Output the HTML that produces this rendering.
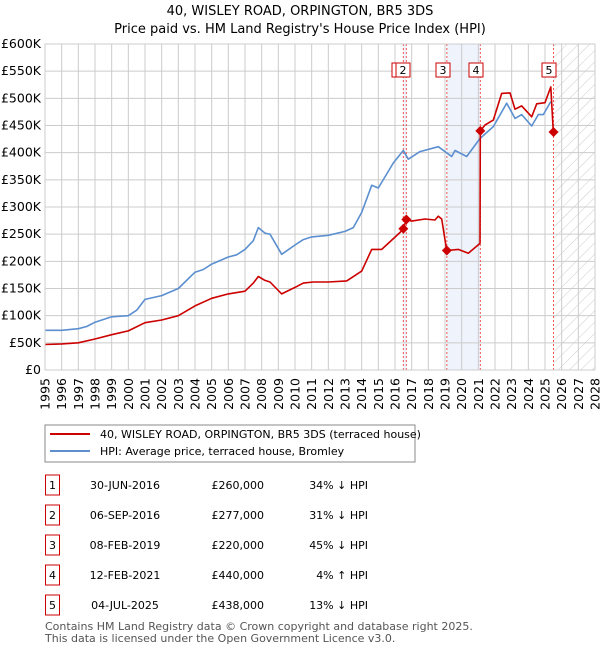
<!DOCTYPE html>
<html><head><meta charset="utf-8"><style>
body{margin:0;background:#fff;font-family:"Liberation Sans","DejaVu Sans",sans-serif;}
svg text{font-family:"DejaVu Sans","Liberation Sans",sans-serif;}
</style></head><body>
<svg id="c" width="600" height="650" viewBox="0 0 600 650" xmlns="http://www.w3.org/2000/svg">
<defs><pattern id="hatch" width="8" height="8" patternUnits="userSpaceOnUse" patternTransform="rotate(45)"><line x1="0" y1="0" x2="0" y2="8" stroke="#ccc" stroke-width="1"/></pattern></defs>
<text x="300" y="15" text-anchor="middle" font-size="13" fill="#000">40, WISLEY ROAD, ORPINGTON, BR5 3DS</text>
<text x="300" y="33" text-anchor="middle" font-size="13" fill="#000">Price paid vs. HM Land Registry's House Price Index (HPI)</text>
<g id="grid"></g><g id="marks"></g><g id="axes"></g>
<rect x="45" y="425" width="370" height="37" fill="#fff" stroke="#888"/>
<line x1="50" y1="434" x2="90" y2="434" stroke="#cc0000" stroke-width="2"/>
<text x="100" y="438" font-size="11">40, WISLEY ROAD, ORPINGTON, BR5 3DS (terraced house)</text>
<line x1="50" y1="451" x2="90" y2="451" stroke="#5b8fd0" stroke-width="2"/>
<text x="100" y="455" font-size="11">HPI: Average price, terraced house, Bromley</text>
<g id="table"></g>
<text x="45" y="630" font-size="11" fill="#555">Contains HM Land Registry data © Crown copyright and database right 2025.</text>
<text x="45" y="642" font-size="11" fill="#555">This data is licensed under the Open Government Licence v3.0.</text>
</svg>
<script>
const yTicks=[0,50,100,150,200,250,300,350,400,450,500,550,600];
const yTickLabels=["£0","£50K","£100K","£150K","£200K","£250K","£300K","£350K","£400K","£450K","£500K","£550K","£600K"];
const xYears=[1995,1996,1997,1998,1999,2000,2001,2002,2003,2004,2005,2006,2007,2008,2009,2010,2011,2012,2013,2014,2015,2016,2017,2018,2019,2020,2021,2022,2023,2024,2025,2026,2027,2028];
const hpiT=[1995,1996,1997,1997.5,1998,1999,2000,2000.5,2001,2002,2003,2004,2004.5,2005,2006,2006.5,2007,2007.5,2007.8,2008.2,2008.5,2009.2,2010,2010.5,2011,2012,2013,2013.5,2014,2014.6,2015,2015.9,2016.5,2016.8,2017.5,2018.6,2019.4,2019.6,2020.3,2021.1,2021.9,2022.7,2023.2,2023.6,2024.2,2024.6,2024.9,2025.35];
const hpiV=[73,73,76,80,88,98,100,110,130,137,150,180,185,195,208,212,222,238,262,252,250,213,230,240,245,248,255,262,290,340,335,381,404,388,402,411,393,404,393,426,448,491,463,470,449,470,470,494];
const redT=[1995,1996,1997,1998,1999,2000,2001,2002,2003,2004,2005,2006,2007,2007.5,2007.8,2008.2,2008.5,2009.2,2010,2010.5,2011.1,2012,2013.1,2014,2014.6,2015.2,2016.3,2016.5,2016.68,2017,2017.8,2018.4,2018.6,2018.8,2019.1,2019.8,2020.4,2021.1,2021.12,2021.4,2021.9,2022.4,2022.9,2023.2,2023.6,2024.2,2024.5,2025,2025.35,2025.5];
const redV=[47,48,50,57,65,72,87,92,100,118,132,140,145,160,172,165,162,140,152,160,162,162,164,182,222,222,253,260,277,274,278,276,283,278,220,222,215,233,440,451,460,509,510,480,486,466,490,492,521,438];
const saleIds=["1","2","3","4","5"];
const saleT=[2016.5,2016.68,2019.11,2021.12,2025.51];
const saleV=[260,277,220,440,438];
const saleDates=["30-JUN-2016","06-SEP-2016","08-FEB-2019","12-FEB-2021","04-JUL-2025"];
const salePrices=["£260,000","£277,000","£220,000","£440,000","£438,000"];
const saleHpi=["34% ↓ HPI","31% ↓ HPI","45% ↓ HPI","4% ↑ HPI","13% ↓ HPI"];
const boxX=[392,396,436,469,542];

const L=45,R=595,T=44,B=370;
const xs=t=>L+(t-1995)*(R-L)/33;
const ys=v=>B-v*(B-T)/600;
const NS="http://www.w3.org/2000/svg";
function mk(p,tag,at){const e=document.createElementNS(NS,tag);for(const k in at)e.setAttribute(k,at[k]);p.appendChild(e);return e;}
const grid=document.getElementById('grid'),marks=document.getElementById('marks'),axes=document.getElementById('axes'),table=document.getElementById('table');
// shading
let s=mk(grid,'rect',{x:xs(saleT[0]),y:T,width:xs(saleT[1])-xs(saleT[0]),height:B-T,fill:'#eef3fc'});


s=mk(grid,'rect',{x:xs(saleT[2]),y:T,width:xs(saleT[3])-xs(saleT[2]),height:B-T,fill:'#eef3fc'});


s=mk(grid,'rect',{x:xs(saleT[4]),y:T,width:R-xs(saleT[4]),height:B-T,fill:'url(#hatch)'});


yTicks.forEach((v,i)=>{
 const l=mk(grid,'line',{x1:L,x2:R,y1:ys(v),y2:ys(v),stroke:'#ccc','stroke-width':1});
 
 
 const t=mk(axes,'text',{x:L-4,y:ys(v)+4,'text-anchor':'end','font-size':12.5,fill:'#000'});
 t.textContent=yTickLabels[i];
 
 
});
xYears.forEach(y=>{
 const l=mk(grid,'line',{x1:xs(y),x2:xs(y),y1:T,y2:B,stroke:'#ccc','stroke-width':1});
 
 
 const t=mk(axes,'text',{x:0,y:0,'text-anchor':'end','font-size':12.5,transform:`translate(${xs(y)+4.5},${B+8}) rotate(-90)`});
 t.textContent=y;
 
 
});
saleT.forEach((t,i)=>{
 const l=mk(marks,'line',{x1:xs(t),x2:xs(t),y1:T,y2:B,stroke:'#e55','stroke-width':1,'stroke-dasharray':'2,2'});
 
 
});
function path(T_,V_,col,name){
 const d=T_.map((t,i)=>(i?'L':'M')+xs(t).toFixed(1)+','+ys(V_[i]).toFixed(1)).join('');
 const p=mk(marks,'path',{d,fill:'none',stroke:col,'stroke-width':1.6,'stroke-linejoin':'round'});
 
 
}
path(hpiT,hpiV,'#5b8fd0','hpi-line');
path(redT,redV,'#cc0000','property-price-line');
saleT.forEach((t,i)=>{
 const x=xs(t),y=ys(saleV[i]);
 const d=mk(marks,'polygon',{points:`${x},${y-5} ${x+5},${y} ${x},${y+5} ${x-5},${y}`,fill:'#cc0000'});
 
 
 const r=mk(marks,'rect',{x:boxX[i],y:63,width:14,height:14,fill:'#fff',stroke:'#cc0000'});
 
 
 const tx=mk(marks,'text',{x:boxX[i]+7,y:74,'text-anchor':'middle','font-size':11});
 tx.textContent=saleIds[i];
 
 
});
const ax=mk(axes,'rect',{x:L,y:T,width:R-L,height:B-T,fill:'none',stroke:'#ccc'});


saleIds.forEach((id,i)=>{
 const cy=485+i*30;
 const r=mk(table,'rect',{x:45.5,y:cy-10,width:14,height:20,fill:'#fff',stroke:'#cc0000'});
 
 
 let t=mk(table,'text',{x:52.5,y:cy+4,'text-anchor':'middle','font-size':11});t.textContent=id;
 
 
 t=mk(table,'text',{x:125,y:cy+4,'text-anchor':'middle','font-size':11});t.textContent=saleDates[i];
 
 
 t=mk(table,'text',{x:264,y:cy+4,'text-anchor':'end','font-size':11});t.textContent=salePrices[i];
 
 
 t=mk(table,'text',{x:368,y:cy+4,'text-anchor':'end','font-size':11});t.textContent=saleHpi[i];
 
 
});
</script>
</body></html>
